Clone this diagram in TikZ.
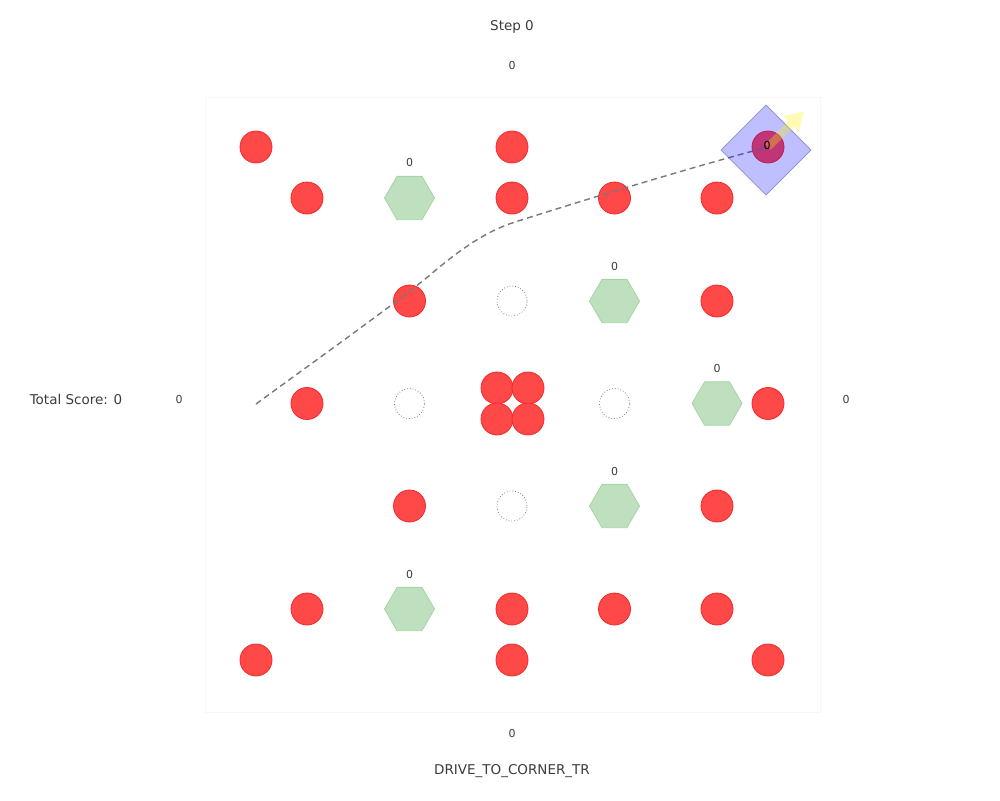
\documentclass[tikz,border=0pt]{standalone}
\usepackage{fontspec}
\setmainfont{DejaVu Sans}
\usetikzlibrary{shapes.geometric}
\definecolor{redfill}{RGB}{255,72,72}
\definecolor{redline}{RGB}{245,40,40}
\definecolor{hexfill}{RGB}{190,224,190}
\definecolor{hexline}{RGB}{165,212,165}
\definecolor{txt}{RGB}{60,60,60}
\definecolor{pathgray}{RGB}{120,120,120}
\tikzset{
  ball/.style={circle,minimum size=32pt,inner sep=0pt,fill=redfill,draw=redline,line width=0.8pt},
  hole/.style={circle,minimum size=30pt,inner sep=0pt,draw=gray,dotted,line width=0.8pt},
  hexa/.style={regular polygon,regular polygon sides=6,minimum size=50pt,inner sep=0pt,fill=hexfill,draw=hexline,line width=0.8pt},
  lbl/.style={font=\fontsize{13.5}{13.5}\selectfont,text=txt,inner sep=0pt},
  small/.style={font=\fontsize{11}{11}\selectfont,text=txt,inner sep=0pt},
}
\begin{document}
\begin{tikzpicture}[x=1pt,y=-1pt]
\useasboundingbox (0,0) rectangle (1000,800);
\draw[black!3] (205,97) rectangle (820,712);
% texts
\node[lbl] (step) at (512,27) {Step 0};
\node[small] (top0) at (512,65) {0};
\node[small] (bot0) at (512,733) {0};
\node[lbl] (mode) at (512,771) {DRIVE\_TO\_CORNER\_TR};
\node[lbl] (score) at (76,399) {Total Score: 0};
\node[small] (left0) at (179,399) {0};
\node[small] (right0) at (846,399) {0};
% holes
\node[hole] (h1) at (512,301) {};
\node[hole] (h2) at (409.5,403.5) {};
\node[hole] (h3) at (614.5,403.5) {};
\node[hole] (h4) at (512,506) {};
% hexagons
\node[hexa] (x1) at (409.5,198) {};
\node[small] (x1l) at (409.5,162) {0};
\node[hexa] (x2) at (614.5,301) {};
\node[small] (x2l) at (614.5,266) {0};
\node[hexa] (x3) at (717,403.5) {};
\node[small] (x3l) at (717,368) {0};
\node[hexa] (x4) at (614.5,506) {};
\node[small] (x4l) at (614.5,471) {0};
\node[hexa] (x5) at (409.5,609) {};
\node[small] (x5l) at (409.5,574) {0};
% balls
\foreach \n/\x/\y in {a1/256/147,a2/512/147,
  b1/307/198,b2/512/198,b3/614.5/198,b4/717/198,
  c1/409.5/301,c2/717/301,
  d1/307/403.5,d2/497/388,d3/528/388,d4/497/419,d5/528/419,d6/768/403.5,
  e1/409.5/506,e2/717/506,
  f1/307/609,f2/512/609,f3/614.5/609,f4/717/609,
  g1/256/660,g2/512/660,g3/768/660}
  \node[ball] (\n) at (\x,\y) {};
% robot ball
\node[ball] (robot) at (768,147) {};
% path
\coordinate (start) at (256,404);
\draw[pathgray,line width=1.4pt,dash pattern=on 6pt off 4pt]
  (start) .. controls (330,350) and (400,300) .. (430,275)
  .. controls (465,245) and (490,230) .. (515,222)
  .. controls (600,195) and (700,165) .. (robot.center);
% diamond
\fill[blue,opacity=0.25] (766,105) -- (811,150) -- (766,195) -- (721,150) -- cycle;
\draw[blue!30!gray,opacity=0.5,line width=0.8pt] (766,105) -- (811,150) -- (766,195) -- (721,150) -- cycle;
% heading arrow
\fill[yellow,opacity=0.3] (770.8,149.8) -- (794.2,126.5) -- (799.1,131.4) -- (803.4,111.6) -- (783.6,115.9) -- (788.5,120.8) -- (765.2,144.2) -- cycle;
\node[font=\fontsize{11}{11}\selectfont,text=black,inner sep=0pt] (rl) at (767,145) {0};
\end{tikzpicture}
\end{document}
